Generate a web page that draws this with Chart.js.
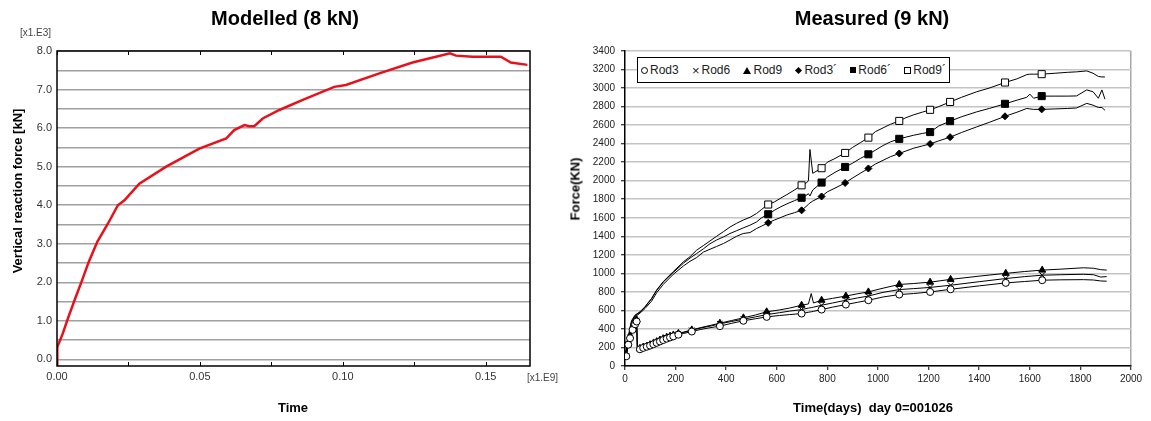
<!DOCTYPE html>
<html>
<head>
<meta charset="utf-8">
<script src="https://cdn.jsdelivr.net/npm/chart.js@4.4.0/dist/chart.umd.min.js"></script>
<style>
  body { margin: 0; width: 1151px; height: 421px; background: #fff; position: relative; overflow: hidden;
         font-family: "Liberation Sans", Arial, sans-serif; }
  .box { position: absolute; top: 0; height: 421px; }
  .lbl { position: absolute; white-space: nowrap; color: #000; transform: translate(-50%, -50%); }
  .title { font-size: 20px; font-weight: bold; }
  .axt { font-size: 13px; font-weight: bold; }
  .rot { transform: translate(-50%, -50%) rotate(-90deg); }
  .unit { position: absolute; font-size: 10px; color: #444; white-space: nowrap; }
  #legend { position: absolute; left: 637px; top: 57px; width: 305px; height: 24px; padding: 0 3px;
            border: 1px solid #000; background: #fff; display: flex; align-items: center;
            justify-content: space-between; font-size: 12px; color: #222; }
  #legend span.it { display: flex; align-items: center; }
  .mk { display: inline-block; margin-right: 2px; box-sizing: border-box; }
</style>
</head>
<body>
<div class="box" style="left:0;width:565px"><canvas id="modelled" width="565" height="421"></canvas></div>
<div class="box" style="left:565px;width:586px"><canvas id="measured" width="586" height="421"></canvas></div>

<div class="lbl title" style="left:285px;top:18px">Modelled (8 kN)</div>
<div class="lbl axt rot" style="left:17px;top:191px">Vertical reaction force [kN]</div>
<div class="lbl axt" style="left:293px;top:407px">Time</div>
<div class="unit" style="left:20px;top:27px">[x1.E3]</div>
<div class="unit" style="left:527px;top:372px">[x1.E9]</div>

<div class="lbl title" style="left:872px;top:18px">Measured (9 kN)</div>
<div class="lbl axt rot" style="left:575px;top:189px">Force(KN)</div>
<div class="lbl axt" style="left:873px;top:407px">Time(days)&nbsp; day 0=001026</div>
<div id="legend"></div>

<script>
Chart.defaults.font.family = '"Liberation Sans", Arial, sans-serif';
Chart.defaults.animation = false;

// Modelled: time [x1.E9] vs force [x1.E3 kN]
const modelTime = [0, 0.0001, 0.002, 0.0038, 0.0061, 0.0085, 0.0111, 0.0141, 0.0178, 0.0213, 0.0236, 0.0288, 0.0382, 0.0498, 0.0592, 0.062, 0.0656, 0.0673, 0.069, 0.072, 0.0778, 0.086, 0.097, 0.1011, 0.1128, 0.1244, 0.1375, 0.1396, 0.1454, 0.1553, 0.1588, 0.1646];
const modelForce = [-0.17, 0.32, 0.67, 1.06, 1.53, 2.0, 2.53, 3.05, 3.52, 4.0, 4.13, 4.56, 5.0, 5.47, 5.73, 5.95, 6.08, 6.05, 6.05, 6.25, 6.47, 6.73, 7.07, 7.12, 7.42, 7.7, 7.94, 7.88, 7.85, 7.85, 7.7, 7.64];

// Measured: upper group (Rod3´, Rod6´, Rod9´)
const upperDays = [0, 13, 26, 40, 59, 79, 105, 125, 151, 191, 231, 257, 283, 310, 336, 362, 389, 415, 441, 467, 494, 520, 540, 566, 590, 613, 640, 670, 698, 715, 725, 731, 742, 777, 800, 830, 870, 900, 930, 962, 990, 1020, 1050, 1084, 1110, 1140, 1175, 1206, 1240, 1285, 1330, 1390, 1440, 1502, 1550, 1588, 1600, 1615, 1647, 1700, 1750, 1785, 1825, 1850, 1871, 1885, 1897];
const rod9pForce = [100, 320, 490, 550, 585, 640, 730, 820, 910, 1020, 1125, 1180, 1250, 1300, 1350, 1400, 1450, 1500, 1540, 1575, 1605, 1646, 1690, 1743, 1770, 1808, 1850, 1900, 1950, 1970, 2000, 2337, 2080, 2135, 2200, 2240, 2300, 2360, 2410, 2465, 2530, 2570, 2610, 2645, 2680, 2710, 2740, 2765, 2800, 2850, 2900, 2960, 3000, 3060, 3100, 3145, 3150, 3150, 3150, 3160, 3170, 3175, 3185, 3160, 3125, 3120, 3120];
const rod6pForce = [100, 300, 480, 545, 580, 635, 725, 815, 905, 1010, 1110, 1165, 1214, 1265, 1320, 1360, 1393, 1430, 1460, 1490, 1520, 1555, 1600, 1638, 1680, 1715, 1750, 1785, 1816, 1840, 1860, 1835, 1900, 1980, 2040, 2090, 2148, 2190, 2240, 2285, 2330, 2380, 2420, 2452, 2470, 2490, 2510, 2525, 2590, 2643, 2690, 2743, 2780, 2830, 2870, 2900, 2935, 2890, 2913, 2913, 2913, 2915, 2980, 2960, 2890, 2980, 2880];
const rod3pForce = [100, 300, 470, 530, 570, 620, 700, 790, 880, 990, 1080, 1130, 1170, 1230, 1260, 1290, 1322, 1360, 1400, 1430, 1440, 1484, 1510, 1545, 1575, 1600, 1630, 1655, 1680, 1720, 1745, 1760, 1780, 1830, 1880, 1920, 1976, 2030, 2080, 2132, 2180, 2220, 2260, 2294, 2320, 2350, 2375, 2397, 2430, 2470, 2520, 2581, 2630, 2695, 2740, 2780, 2775, 2770, 2770, 2775, 2780, 2785, 2835, 2815, 2790, 2790, 2760];
const upperMarkerDays = [566, 698, 777, 870, 962, 1084, 1206, 1285, 1502, 1647];

// Measured: lower group (Rod3, Rod6, Rod9)
const lowerDays = [0, 5, 13, 20, 30, 40, 46, 49, 59, 72, 86, 99, 112, 125, 138, 151, 165, 178, 191, 211, 230, 264, 300, 340, 375, 420, 468, 515, 560, 610, 650, 698, 725, 736, 745, 777, 820, 873, 920, 962, 1020, 1084, 1140, 1206, 1287, 1400, 1505, 1580, 1649, 1720, 1812, 1852, 1880, 1904];
const rod9Force = [95, 110, 250, 320, 410, 470, 500, 175, 190, 205, 215, 230, 245, 262, 280, 295, 310, 322, 335, 352, 365, 390, 415, 440, 462, 490, 520, 550, 585, 605, 625, 656, 670, 782, 680, 710, 730, 755, 780, 800, 840, 880, 890, 905, 935, 970, 1000, 1020, 1035, 1045, 1060, 1055, 1040, 1035];
const rod6Force = [95, 105, 240, 310, 400, 460, 490, 170, 185, 200, 212, 226, 240, 258, 275, 290, 305, 318, 330, 348, 360, 385, 410, 432, 455, 480, 505, 530, 555, 575, 592, 609, 625, 630, 635, 656, 680, 710, 735, 755, 795, 825, 835, 848, 872, 910, 944, 965, 980, 985, 990, 985, 960, 965];
const rod3Force = [95, 105, 230, 300, 390, 450, 480, 165, 180, 195, 208, 220, 235, 250, 265, 280, 295, 308, 320, 338, 350, 372, 395, 415, 430, 460, 488, 510, 530, 545, 555, 566, 580, 585, 590, 609, 635, 663, 688, 710, 745, 771, 782, 799, 828, 865, 897, 912, 926, 930, 932, 928, 918, 915];
const lowerMarkerDays = [5, 13, 20, 30, 40, 46, 59, 72, 86, 99, 112, 125, 138, 151, 165, 178, 191, 211, 264, 375, 468, 560, 698, 777, 873, 962, 1084, 1206, 1287, 1505, 1649];

const seriesNames = ['Rod3', 'Rod6', 'Rod9', 'Rod3´', 'Rod6´', 'Rod9´'];

// frame + inward ticks for the modelled chart
const frameTicks = {
  id: 'frameTicks',
  afterDraw(chart) {
    const {ctx, chartArea: a, scales: {x}} = chart;
    ctx.save();
    ctx.strokeStyle = '#000';
    ctx.lineWidth = 1.5;
    ctx.strokeRect(a.left, a.top, a.right - a.left, a.bottom - a.top);
    ctx.lineWidth = 1;
    x.ticks.forEach(t => {
      const px = Math.round(x.getPixelForValue(t.value)) + 0.5;
      ctx.beginPath();
      ctx.moveTo(px, a.bottom); ctx.lineTo(px, a.bottom - 4);
      ctx.moveTo(px, a.top); ctx.lineTo(px, a.top + 4);
      ctx.stroke();
    });
    ctx.restore();
  }
};

new Chart(document.getElementById('modelled'), {
  type: 'line',
  data: {
    datasets: [{
      data: modelTime.map((t, i) => ({x: t, y: modelForce[i]})),
      borderColor: '#e8101a',
      borderWidth: 2.5,
      pointRadius: 0,
      tension: 0
    }]
  },
  options: {
    responsive: false,
    devicePixelRatio: 1,
    layout: {padding: {top: 51, right: 35, left: 0, bottom: 0}},
    plugins: {legend: {display: false}, tooltip: {enabled: false}},
    scales: {
      x: {
        type: 'linear', min: 0, max: 0.1655,
        afterBuildTicks: s => { s.ticks = [0, 0.025, 0.05, 0.075, 0.1, 0.125, 0.15].map(v => ({value: v})); },
        afterFit: s => { s.height = 55; },
        ticks: {
          padding: 4, color: '#333', font: {size: 11}, maxRotation: 0, autoSkip: false,
          callback: v => (Math.round(v * 1000) % 50 === 0 ? v.toFixed(2) : '')
        },
        grid: {display: false, drawTicks: false},
        border: {display: false}
      },
      y: {
        min: -0.17, max: 8,
        afterBuildTicks: s => { s.ticks = Array.from({length: 17}, (_, i) => ({value: i * 0.5})); },
        afterFit: s => { s.width = 57; },
        ticks: {
          padding: 5, color: '#333', font: {size: 11}, autoSkip: false,
          callback: v => (Number.isInteger(v) ? v.toFixed(1) : '')
        },
        grid: {color: '#a0a0a0', lineWidth: 1.5, drawTicks: false},
        border: {display: false}
      }
    }
  },
  plugins: [frameTicks]
});

function markerRadius(days, r) {
  const set = new Set(days);
  return ctx => (ctx.raw && set.has(ctx.raw.x) ? r : 0);
}

const styles = [
  {days: lowerDays, vals: rod3Force, marks: lowerMarkerDays, pointStyle: 'circle', r: 3.5, fill: '#fff'},
  {days: lowerDays, vals: rod6Force, marks: lowerMarkerDays, pointStyle: 'crossRot', r: 4, fill: '#000'},
  {days: lowerDays, vals: rod9Force, marks: lowerMarkerDays, pointStyle: 'triangle', r: 4, fill: '#000'},
  {days: upperDays, vals: rod3pForce, marks: upperMarkerDays, pointStyle: 'rectRot', r: 3.5, fill: '#000'},
  {days: upperDays, vals: rod6pForce, marks: upperMarkerDays, pointStyle: 'rect', r: 5, fill: '#000'},
  {days: upperDays, vals: rod9pForce, marks: upperMarkerDays, pointStyle: 'rect', r: 5, fill: '#fff'}
];

new Chart(document.getElementById('measured'), {
  type: 'line',
  data: {
    datasets: styles.map((s, k) => ({
      label: seriesNames[k],
      data: s.days.map((d, i) => ({x: d, y: s.vals[i]})),
      borderColor: '#000',
      borderWidth: 1,
      tension: 0,
      pointStyle: s.pointStyle,
      pointRadius: markerRadius(s.marks, s.r),
      pointBackgroundColor: s.fill,
      pointBorderColor: '#000',
      pointBorderWidth: 1
    }))
  },
  options: {
    responsive: false,
    devicePixelRatio: 1,
    layout: {padding: {top: 51, right: 20, left: 0, bottom: 0}},
    plugins: {legend: {display: false}, tooltip: {enabled: false}},
    scales: {
      x: {
        type: 'linear', min: 0, max: 2000,
        afterFit: s => { s.height = 55; },
        ticks: {stepSize: 200, padding: 3, color: '#222', font: {size: 10}, maxRotation: 0, autoSkip: false,
                callback: v => String(v)},
        grid: {
          color: c => (c.tick && c.tick.value === 2000 ? '#a8a8a8' : 'rgba(0,0,0,0)'),
          lineWidth: 1.5, tickColor: '#000', tickLength: 4, tickWidth: 1
        },
        border: {color: '#000', width: 1.5}
      },
      y: {
        min: 0, max: 3400,
        afterFit: s => { s.width = 60; },
        ticks: {stepSize: 200, padding: 6, color: '#222', font: {size: 10}, autoSkip: false,
                callback: v => String(v)},
        grid: {color: '#c4c4c4', lineWidth: 1.5, tickColor: '#000', tickLength: 4, tickWidth: 1},
        border: {color: '#000', width: 1.5}
      }
    }
  }
});

// legend built from the series names
const legendMarks = [
  'width:7px;height:7px;border:1px solid #000;border-radius:50%',
  '',
  'width:0;height:0;border-left:4px solid transparent;border-right:4px solid transparent;border-bottom:7px solid #000',
  'width:5px;height:5px;background:#000;transform:rotate(45deg);margin:0 3px 0 1px',
  'width:6px;height:6px;background:#000',
  'width:7px;height:7px;border:1px solid #000'
];
const legend = document.getElementById('legend');
seriesNames.forEach((name, k) => {
  const it = document.createElement('span');
  it.className = 'it';
  const mk = document.createElement('span');
  mk.className = 'mk';
  if (k === 1) { mk.textContent = '×'; mk.style.fontSize = '13px'; }
  else mk.style.cssText = legendMarks[k];
  it.appendChild(mk);
  it.appendChild(document.createTextNode(name));
  legend.appendChild(it);
});
</script>
</body>
</html>
